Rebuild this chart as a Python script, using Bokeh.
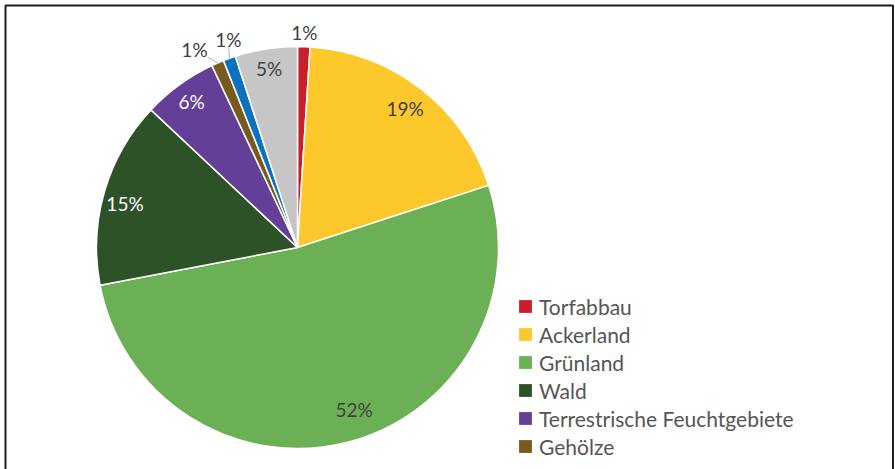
import math
from bokeh.plotting import figure
from bokeh.models import Range1d, ColumnDataSource, Legend, LegendItem, BoxAnnotation
from bokeh.core.properties import value
from bokeh.embed import file_html
from bokeh.resources import INLINE

# ---- data ----
categories = ["Torfabbau", "Ackerland", "Grünland", "Wald",
              "Terrestrische Feuchtgebiete", "Gehölze", "Gewässer", "Siedlung"]
shares = [1, 19, 52, 15, 6, 1, 1, 5]
legend_count = 6  # only the first six entries are visible

# ---- style ----
colors = ["#C8202B", "#FDC82C", "#6BB055", "#2E5227", "#643F98", "#775A1E", "#0C72BD", "#C6C6C6"]
label_colors = ["#404040", "#404040", "#404040", "#FFFFFF", "#FFFFFF", "#404040", "#404040", "#404040"]
label_r = [1.07, 0.874, 0.855, 0.886, 0.896, 1.11, 1.09, 0.90]
label_nudge_deg = [0, 0, -4.8, -1.8, 0, -4.1, 1.4, 0]
leader = [False, False, False, False, False, True, True, False]
FONT = "Lato"

X0, Y0, W, H = 0, 0, 895, 469
CX, CY, R = 297, 247, 201

p = figure(width=W, height=H, output_backend="svg", toolbar_location=None,
           x_range=Range1d(X0, X0 + W), y_range=Range1d(-(Y0 + H), -Y0),
           min_border=0, outline_line_color=None)
p.axis.visible = False
p.grid.visible = False
p.background_fill_color = "white"

# wedges
total = sum(shares)
cum = [0]
for v in shares:
    cum.append(cum[-1] + v / total)
start = [math.pi / 2 - 2 * math.pi * c for c in cum[:-1]]
end = [math.pi / 2 - 2 * math.pi * c for c in cum[1:]]
src = ColumnDataSource(dict(cat=categories, start=start, end=end, color=colors))
wr = p.wedge(x=CX, y=-CY, radius=R, start_angle="start", end_angle="end",
             direction="clock", fill_color="color", line_color="white",
             line_width=1.5, source=src)
# legend proxy (same data, no outline) for crisp legend squares
lr = p.wedge(x=CX, y=-CY, radius=0, start_angle="start", end_angle="end",
             direction="clock", fill_color="color", line_color=None, source=src)

# labels
lx, ly, lt = [], [], []
lead_xs, lead_ys = [], []
for i, v in enumerate(shares):
    mid = (cum[i] + cum[i + 1]) / 2 * 360
    a = math.radians(mid + label_nudge_deg[i])
    x = CX + R * label_r[i] * math.sin(a)
    y = CY - R * label_r[i] * math.cos(a)
    lx.append(x); ly.append(-y); lt.append(f"{v}%")
    if leader[i]:
        am = math.radians(mid)
        ex, ey = CX + R * math.sin(am), CY - R * math.cos(am)
        dx, dy = ex - x, ey - y
        t = min(13 / abs(dx) if dx else 9, 8 / abs(dy) if dy else 9)
        lead_xs.append([x + dx * t, ex]); lead_ys.append([-(y + dy * t), -ey])
p.multi_line(xs=lead_xs, ys=lead_ys, line_color="#B0B0B0", line_width=1)
p.text(x=lx, y=ly, text=lt, text_color=label_colors, text_align="center",
       text_baseline="middle", text_font=value(FONT), text_font_size="19px")

# border (bottom edge lies below the visible page)
p.add_layout(BoxAnnotation(left=5, right=892.5, top=-5, bottom=-(H + 20),
                           fill_alpha=0, line_color="#1E1E1E", line_alpha=1,
                           line_width=2))

# legend
items = [LegendItem(label=categories[i], renderers=[lr], index=i) for i in range(legend_count)]
legend = Legend(items=items, location=(517, 9), orientation="vertical",
                glyph_width=16, glyph_height=16, label_height=28, spacing=0,
                padding=0, margin=0, label_standoff=6,
                label_text_font=FONT, label_text_font_size="21px",
                label_text_color="#555555", border_line_color=None,
                background_fill_alpha=0)
p.add_layout(legend, "center")

open("out.html", "w").write(file_html(p, INLINE))
